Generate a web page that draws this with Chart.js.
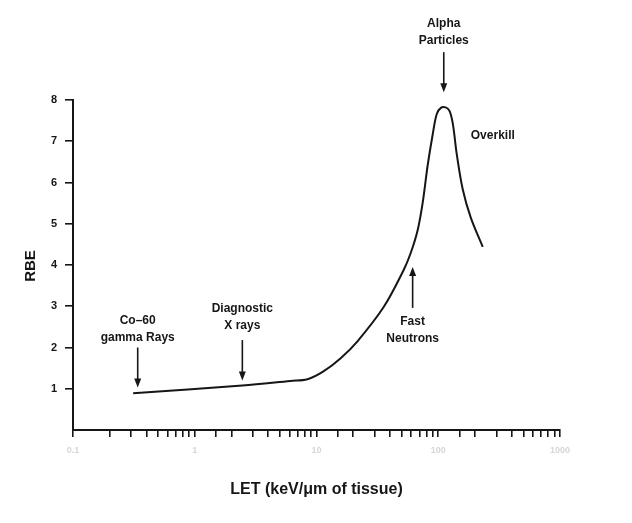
<!DOCTYPE html>
<html>
<head>
<meta charset="utf-8">
<script src="https://cdn.jsdelivr.net/npm/chart.js@4.4.0/dist/chart.umd.min.js"></script>
<style>
  html, body { margin: 0; padding: 0; background: #fff; }
  canvas { display: block; }
</style>
</head>
<body>
<canvas id="rbeChart" width="632" height="523"></canvas>
<script>
// RBE as a function of LET
const letValues = [0.312, 2.46, 6.11, 8.43, 11.4, 15.8, 21.7, 35.6, 52.0, 59.4, 67.8, 74.5, 82.0, 90.1, 97.2, 105, 115, 124, 132, 142, 159, 185, 232];
const rbeValues = [0.89, 1.08, 1.19, 1.23, 1.42, 1.74, 2.15, 2.98, 3.88, 4.29, 4.85, 5.51, 6.43, 7.17, 7.66, 7.81, 7.82, 7.73, 7.41, 6.68, 5.83, 5.15, 4.44];

const xTickLabels = ['0.1', '1', '10', '100', '1000'];
const yTickLabels = ['1', '2', '3', '4', '5', '6', '7', '8'];

// labelled arrows: text, LET of the arrow, RBE of first text line, arrow tail and head
const annoLines = [['Co–60', 'gamma Rays'], ['Diagnostic', 'X rays'], ['Fast', 'Neutrons'], ['Alpha', 'Particles']];
const annoLet = [0.34, 2.46, 61.6, 111];
const annoTextRbe = [2.64, 2.93, 2.62, 9.84];
const arrowFrom = [2.0, 2.18, 2.96, 9.16];
const arrowTo = [1.03, 1.2, 3.95, 8.19];

const overkillText = 'Overkill';
const overkillLet = 185;
const overkillRbe = 7.14;

const ink = '#161616';

// arrows and text notes drawn on top of the curve
const annotations = {
    id: 'annotations',
    beforeDraw(chart) {
        const c = chart.ctx;
        c.save();
        c.fillStyle = '#fff';
        c.fillRect(0, 0, chart.width, chart.height);
        c.restore();
    },
    afterDraw(chart) {
        const c = chart.ctx;
        const xs = chart.scales.x, ys = chart.scales.y;
        c.save();
        c.fillStyle = ink;
        c.strokeStyle = ink;
        c.font = 'bold 12px "Liberation Sans", Arial, sans-serif';
        c.textAlign = 'center';
        c.textBaseline = 'middle';

        annoLines.forEach((lines, i) => {
            const px = xs.getPixelForValue(annoLet[i]);
            const ty = ys.getPixelForValue(annoTextRbe[i]);
            lines.forEach((t, k) => c.fillText(t, px, ty + k * 17));

            const y0 = ys.getPixelForValue(arrowFrom[i]);
            const y1 = ys.getPixelForValue(arrowTo[i]);
            const dir = y1 > y0 ? 1 : -1;
            c.lineWidth = 1.6;
            c.beginPath();
            c.moveTo(px, y0);
            c.lineTo(px, y1 - dir * 7);
            c.stroke();
            c.beginPath();
            c.moveTo(px, y1);
            c.lineTo(px - 3.5, y1 - dir * 9);
            c.lineTo(px + 3.5, y1 - dir * 9);
            c.closePath();
            c.fill();
        });

        c.textAlign = 'left';
        c.fillText(overkillText, xs.getPixelForValue(overkillLet), ys.getPixelForValue(overkillRbe));

        // axis titles
        c.font = 'bold 16px "Liberation Sans", Arial, sans-serif';
        c.textAlign = 'center';
        c.fillText('LET (keV/μm of tissue)', (xs.left + xs.right) / 2, 490);
        c.translate(31, 266);
        c.rotate(-Math.PI / 2);
        c.font = 'bold 15px "Liberation Sans", Arial, sans-serif';
        c.fillText('RBE', 0, 0);
        c.restore();
    }
};

const ctx = document.getElementById('rbeChart').getContext('2d');
const chart = new Chart(ctx, {
    type: 'line',
    data: {
        labels: letValues,
        datasets: [{
            data: letValues.map((x, i) => ({ x: x, y: rbeValues[i] })),
            borderColor: ink,
            borderWidth: 2,
            pointRadius: 0,
            fill: false,
            tension: 0.35
        }]
    },
    options: {
        responsive: false,
        animation: false,
        layout: { padding: { top: 100, right: 72, left: 0, bottom: 0 } },
        plugins: {
            legend: { display: false },
            tooltip: { enabled: false }
        },
        scales: {
            x: {
                type: 'logarithmic',
                min: 0.1,
                max: 1000,
                afterFit: (s) => { s.height = 93; },
                border: { display: true, color: ink, width: 2 },
                grid: { drawOnChartArea: false, drawTicks: true, tickLength: 7, color: ink, lineWidth: 1.6 },
                ticks: {
                    autoSkip: false,
                    maxRotation: 0,
                    padding: 8,
                    color: '#d6d6d6',
                    font: { family: '"Liberation Sans", Arial', size: 9, weight: 'bold' },
                    callback: (value) => {
                        const e = Math.log10(value);
                        if (Math.abs(e - Math.round(e)) < 1e-6) return xTickLabels[Math.round(e) + 1];
                        return '';
                    }
                }
            },
            y: {
                min: 0,
                max: 8,
                afterFit: (s) => { s.width = 73; },
                border: { display: true, color: ink, width: 2 },
                grid: {
                    drawOnChartArea: false,
                    drawTicks: true,
                    tickLength: 8,
                    lineWidth: 1.6,
                    color: (c) => c.tick && c.tick.value === 0 ? 'rgba(0,0,0,0)' : ink
                },
                ticks: {
                    stepSize: 1,
                    padding: 8,
                    color: ink,
                    font: { family: '"Liberation Sans", Arial', size: 11, weight: 'bold' },
                    callback: (value) => value === 0 ? '' : yTickLabels[value - 1]
                }
            }
        }
    },
    plugins: [annotations]
});
</script>
</body>
</html>
